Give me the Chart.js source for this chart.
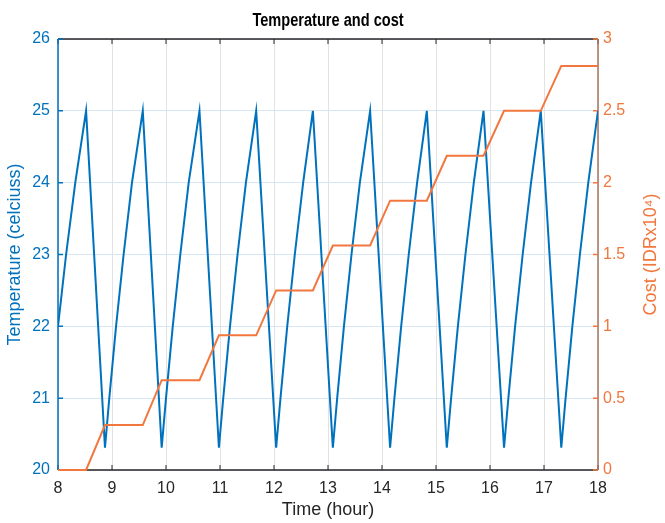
<!DOCTYPE html>
<html>
<head>
<meta charset="utf-8">
<title>Temperature and cost</title>
<script src="https://cdn.jsdelivr.net/npm/chart.js@4.4.1/dist/chart.umd.min.js"></script>
<style>
  html, body { margin: 0; padding: 0; background: #fff; }
  #wrap { width: 665px; height: 523px; }
</style>
</head>
<body>
<div id="wrap"><canvas id="tempCostChart" width="665" height="523"></canvas></div>
<script>
// values
const tempTime = [
  8.00, 8.15, 8.32, 8.52,
  8.87, 8.95, 9.075, 9.215, 9.37, 9.57,
  9.92, 10.00, 10.125, 10.265, 10.42, 10.62,
  10.98, 11.06, 11.185, 11.325, 11.48, 11.67,
  12.04, 12.12, 12.245, 12.385, 12.54, 12.72,
  13.09, 13.17, 13.295, 13.435, 13.59, 13.78,
  14.15, 14.23, 14.355, 14.495, 14.65, 14.83,
  15.20, 15.28, 15.405, 15.545, 15.70, 15.88,
  16.26, 16.34, 16.465, 16.605, 16.76, 16.94,
  17.32, 17.40, 17.525, 17.665, 17.82, 18.00
];
const tempValues = [
  22, 23, 24, 25,
  20.31, 21, 22, 23, 24, 25,
  20.31, 21, 22, 23, 24, 25,
  20.31, 21, 22, 23, 24, 25,
  20.31, 21, 22, 23, 24, 25,
  20.31, 21, 22, 23, 24, 25,
  20.31, 21, 22, 23, 24, 25,
  20.31, 21, 22, 23, 24, 25,
  20.31, 21, 22, 23, 24, 25,
  20.31, 21, 22, 23, 24, 25
];

const costTime = [
  8.00, 8.52, 8.87, 9.57, 9.92, 10.62, 10.98, 11.67, 12.04, 12.72,
  13.09, 13.78, 14.15, 14.83, 15.20, 15.88, 16.26, 16.94, 17.32, 18.00
];
const costValues = [
  0, 0, 0.3125, 0.3125, 0.625, 0.625, 0.9375, 0.9375, 1.25, 1.25,
  1.5625, 1.5625, 1.875, 1.875, 2.1875, 2.1875, 2.5, 2.5, 2.8125, 2.8125
];

const chartTitle = 'Temperature and cost';
const costTitle = 'Cost (IDRx10⁴)';

const BLUE   = '#0072BD';
const ORANGE = '#F2773E';
const AXIS_R = '#A8735E';
const DARK   = '#262626';
const FONT   = '"Liberation Sans", Arial, sans-serif';

const toPoints = (xs, ys) => xs.map((x, i) => ({ x: x, y: ys[i] }));

// MATLAB-like frame with inward ticks, narrow bold title, right label read bottom-up
const framePlugin = {
  id: 'frame',
  beforeDatasetsDraw(chart) {
    const { ctx, chartArea: a, scales } = chart;
    const len = 5;
    ctx.save();
    ctx.lineWidth = 1.5;

    ctx.strokeStyle = DARK;
    ctx.beginPath();
    ctx.moveTo(a.left, a.top); ctx.lineTo(a.right, a.top);
    ctx.moveTo(a.left, a.bottom); ctx.lineTo(a.right, a.bottom);
    ctx.stroke();

    ctx.lineWidth = 1;
    ctx.beginPath();
    scales.x.ticks.forEach(t => {
      const px = scales.x.getPixelForValue(t.value);
      ctx.moveTo(px, a.bottom); ctx.lineTo(px, a.bottom - len);
      ctx.moveTo(px, a.top); ctx.lineTo(px, a.top + len);
    });
    ctx.stroke();

    ctx.lineWidth = 1.5;
    ctx.strokeStyle = BLUE;
    ctx.beginPath();
    ctx.moveTo(a.left, a.top); ctx.lineTo(a.left, a.bottom);
    scales.yT.ticks.forEach(t => {
      const py = scales.yT.getPixelForValue(t.value);
      ctx.moveTo(a.left, py); ctx.lineTo(a.left + len, py);
    });
    ctx.stroke();

    ctx.strokeStyle = AXIS_R;
    ctx.beginPath();
    ctx.moveTo(a.right, a.top); ctx.lineTo(a.right, a.bottom);
    ctx.stroke();
    ctx.strokeStyle = ORANGE;
    ctx.beginPath();
    scales.yC.ticks.forEach(t => {
      const py = scales.yC.getPixelForValue(t.value);
      ctx.moveTo(a.right, py); ctx.lineTo(a.right - len, py);
    });
    ctx.stroke();
    ctx.restore();
  },
  afterDraw(chart) {
    const { ctx, chartArea: a } = chart;
    ctx.save();
    // title
    ctx.translate((a.left + a.right) / 2, 21);
    ctx.scale(0.81, 1);
    ctx.font = 'bold 18px ' + FONT;
    ctx.fillStyle = '#000';
    ctx.textAlign = 'center';
    ctx.textBaseline = 'middle';
    ctx.fillText(chartTitle, 0, 0);
    ctx.restore();

    ctx.save();
    ctx.translate(651, (a.top + a.bottom) / 2);
    ctx.rotate(-Math.PI / 2);
    ctx.font = '18px ' + FONT;
    ctx.fillStyle = ORANGE;
    ctx.textAlign = 'center';
    ctx.textBaseline = 'middle';
    ctx.fillText(costTitle, 0, 0);
    ctx.restore();
  }
};

new Chart(document.getElementById('tempCostChart'), {
  type: 'line',
  data: {
    datasets: [
      {
        label: 'Temperature',
        data: toPoints(tempTime, tempValues),
        yAxisID: 'yT',
        borderColor: BLUE,
        borderWidth: 2,
        pointRadius: 0,
        tension: 0,
        order: 1,
      },
      {
        label: 'Cost',
        data: toPoints(costTime, costValues),
        yAxisID: 'yC',
        borderColor: ORANGE,
        borderWidth: 2,
        pointRadius: 0,
        tension: 0,
        clip: 4,
        order: 0,
      },
    ],
  },
  options: {
    responsive: false,
    animation: false,
    layout: { padding: { top: 39 } },
    plugins: {
      legend: { display: false },
      tooltip: { enabled: false },
      title: { display: false },
    },
    scales: {
      x: {
        type: 'linear',
        min: 8,
        max: 18,
        ticks: {
          stepSize: 1,
          padding: 9,
          color: DARK,
          font: { family: FONT, size: 16 },
        },
        grid: { color: '#E2E2E2', drawTicks: false },
        border: { display: false },
        title: {
          display: true,
          text: 'Time (hour)',
          color: DARK,
          font: { family: FONT, size: 18 },
          padding: { top: 0, bottom: 2.2 },
        },
        afterFit(scale) { scale.height = 53; },
      },
      yT: {
        type: 'linear',
        position: 'left',
        min: 20,
        max: 26,
        ticks: {
          stepSize: 1,
          padding: 8,
          color: BLUE,
          font: { family: FONT, size: 16 },
        },
        grid: { color: '#D8E7F5', drawTicks: false },
        border: { display: false },
        title: {
          display: true,
          text: 'Temperature (celciuss)',
          color: BLUE,
          font: { family: FONT, size: 18 },
          padding: { top: 4.5, bottom: 0 },
        },
        afterFit(scale) { scale.width = 58; },
      },
      yC: {
        type: 'linear',
        position: 'right',
        min: 0,
        max: 3,
        ticks: {
          stepSize: 0.5,
          padding: 5,
          color: ORANGE,
          font: { family: FONT, size: 16 },
          callback: v => String(v),
        },
        grid: { display: false, drawTicks: false },
        border: { display: false },
        afterFit(scale) { scale.width = 67; },
      },
    },
  },
  plugins: [framePlugin],
});
</script>
</body>
</html>
